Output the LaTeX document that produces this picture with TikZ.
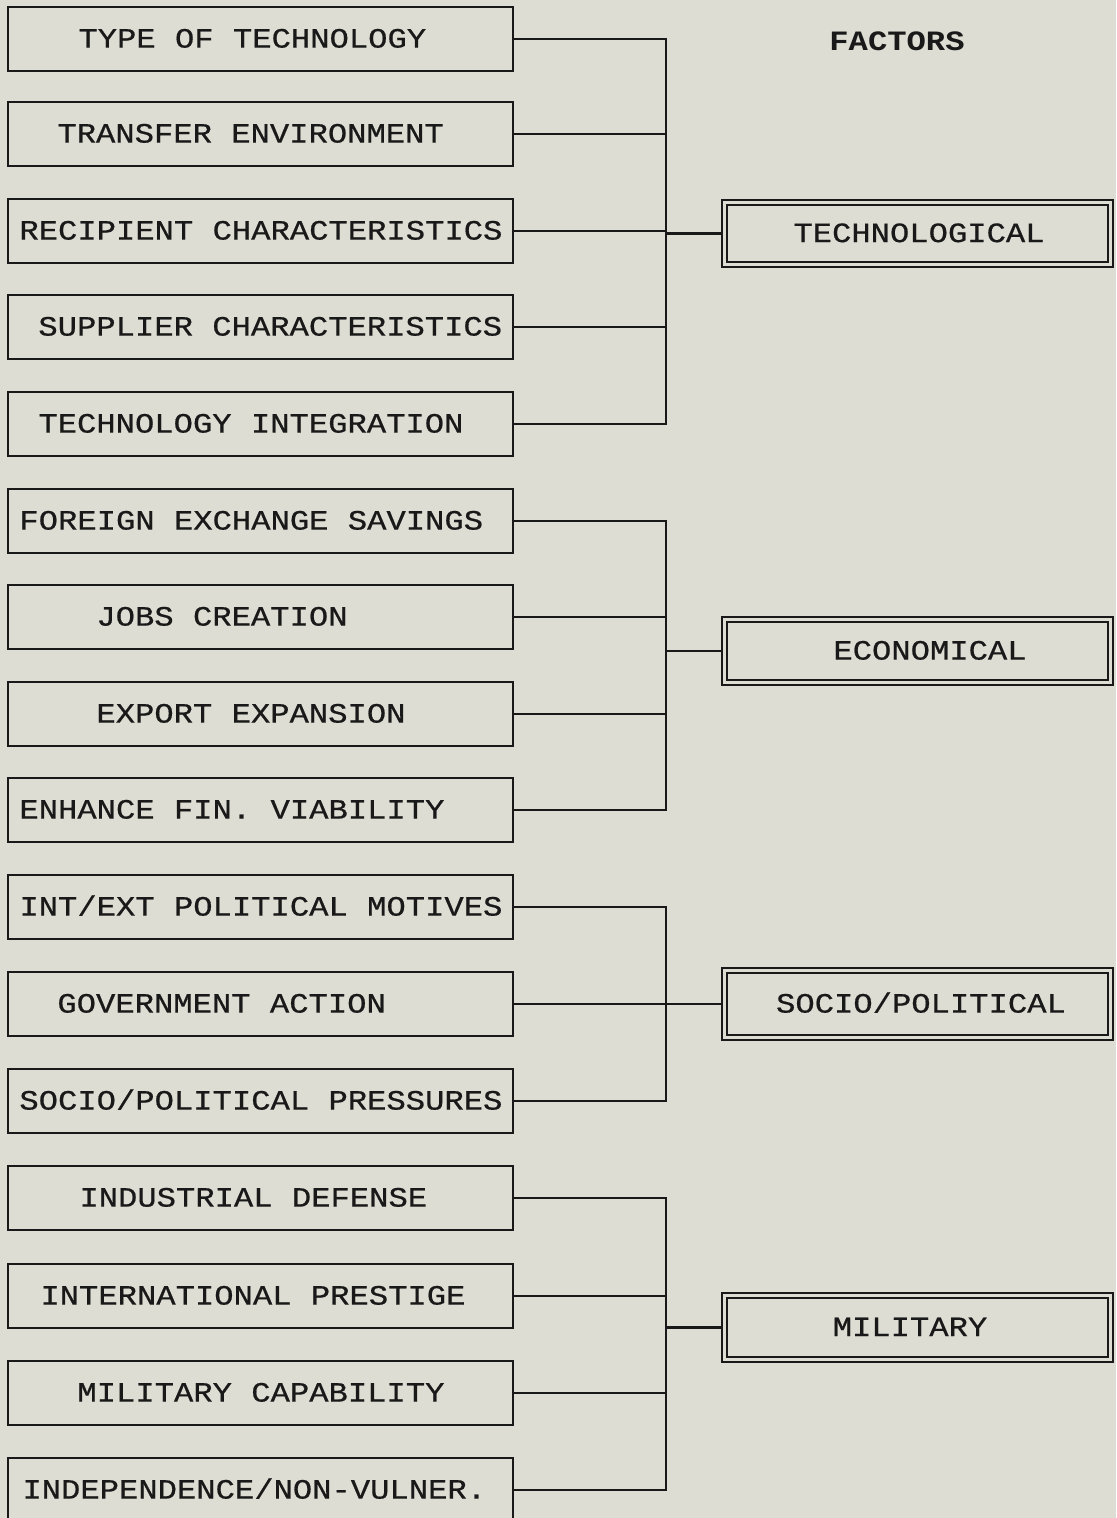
\documentclass[tikz,border=0pt]{standalone}
\usepackage{fontspec}
\setmonofont[FakeStretch=1.15,FakeBold=0.6]{Liberation Mono}
\newfontfamily\facfont[FakeStretch=1.15]{Liberation Mono}
\definecolor{paper}{RGB}{221,221,211}
\definecolor{ink}{RGB}{25,25,25}
\begin{document}
\begin{tikzpicture}[x=0.5pt,y=-0.5pt,
  lbox/.style={draw=ink,line width=1.3pt,minimum width=252.5pt,minimum height=32pt,inner sep=0pt},
  ltext/.style={anchor=west,inner sep=0pt,font=\ttfamily\fontsize{14}{17}\selectfont,text=ink,text height=0.66em,text depth=0pt,yshift=-1pt},
  rbox/.style={draw=ink,double=paper,line width=1.2pt,double distance=1.3pt,minimum width=193pt,inner sep=0pt},
  rtext/.style={inner sep=0pt,font=\ttfamily\fontsize{14}{17}\selectfont,text=ink,text height=0.66em,text depth=0pt,yshift=-1pt},
  conn/.style={draw=ink,line width=1.3pt}]
\fill[paper] (0,0) rectangle (1116,1518);
\useasboundingbox (0,0) rectangle (1116,1518);
% left boxes
\foreach \i/\y/\tx/\t in {
  1/39/78/{TYPE OF TECHNOLOGY},
  2/134/57/{TRANSFER ENVIRONMENT},
  3/231/19/{RECIPIENT CHARACTERISTICS},
  4/327/38/{SUPPLIER CHARACTERISTICS},
  5/424/38/{TECHNOLOGY INTEGRATION},
  6/521/19/{FOREIGN EXCHANGE SAVINGS},
  7/617/96/{JOBS CREATION},
  8/714/96/{EXPORT EXPANSION},
  9/810/19/{ENHANCE FIN. VIABILITY},
  10/907/19/{INT/EXT POLITICAL MOTIVES},
  11/1004/57/{GOVERNMENT ACTION},
  12/1101/19/{SOCIO/POLITICAL PRESSURES},
  13/1198/79/{INDUSTRIAL DEFENSE},
  14/1296/40/{INTERNATIONAL PRESTIGE},
  15/1393/77/{MILITARY CAPABILITY},
  16/1490/22/{INDEPENDENCE/NON-VULNER.}}{
  \node[lbox] (b\i) at (260.5,\y) {};
  \node[ltext] (t\i) at (\tx,\y) {\t};
}
% right boxes
\node[rbox,minimum height=31pt] (F1) at (917.5,233.5) {};
\node[rtext] (f1) at (919,233.5) {TECHNOLOGICAL};
\node[rbox,minimum height=31.5pt] (F2) at (917.5,651) {};
\node[rtext] (f2) at (930,651) {ECONOMICAL};
\node[rbox,minimum height=33.5pt] (F3) at (917.5,1004) {};
\node[rtext] (f3) at (921,1004) {SOCIO/POLITICAL};
\node[rbox,minimum height=32pt] (F4) at (917.5,1327.5) {};
\node[rtext] (f4) at (910,1327.5) {MILITARY};
\node[rtext,font=\facfont\bfseries\fontsize{14}{17}\selectfont] (fac) at (897,42) {FACTORS};
% spines
\coordinate (s) at (666,0);
% group 1
\draw[conn] (b1.east) -| (s |- b5.east) -- (b5.east);
\foreach \i in {2,3,4}{\draw[conn] (b\i.east) -- (b\i.east -| s);}
\draw[conn] (s |- F1.west) -- (F1.west);
% group 2
\draw[conn] (b6.east) -| (s |- b9.east) -- (b9.east);
\foreach \i in {7,8}{\draw[conn] (b\i.east) -- (b\i.east -| s);}
\draw[conn] (s |- F2.west) -- (F2.west);
% group 3
\draw[conn] (b10.east) -| (s |- b12.east) -- (b12.east);
\draw[conn] (b11.east) -- (b11.east -| s);
\draw[conn] (s |- F3.west) -- (F3.west);
% group 4
\draw[conn] (b13.east) -| (s |- b16.east) -- (b16.east);
\foreach \i in {14,15}{\draw[conn] (b\i.east) -- (b\i.east -| s);}
\draw[conn] (s |- F4.west) -- (F4.west);
\end{tikzpicture}
\end{document}
